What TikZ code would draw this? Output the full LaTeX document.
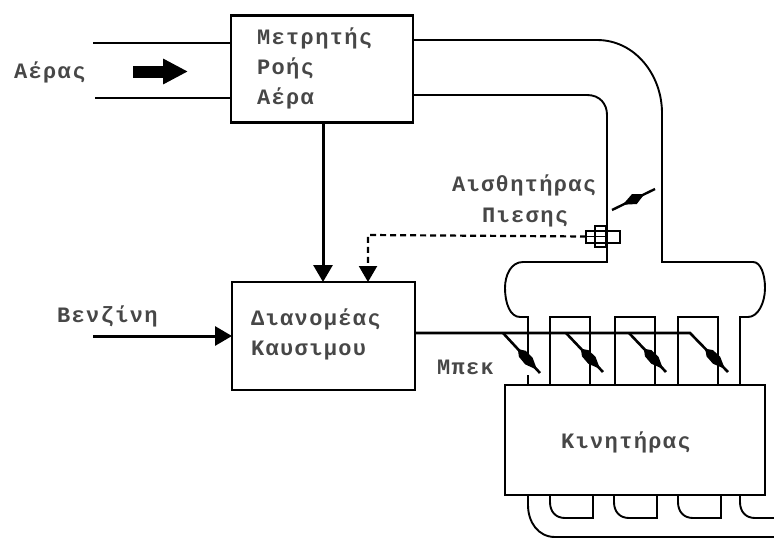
\documentclass[tikz,border=0pt]{standalone}
\usepackage{fontspec}
\usetikzlibrary{arrows.meta,calc}
\newfontfamily\labelfont[LetterSpace=6]{Liberation Mono Bold}
\newcommand{\nozzleblob}[2]{\fill ($(#1)!0.4!(#2)$) -- ($(#1)!0.52!(#2)!4.5pt!90:(#2)$) -- ($(#1)!0.7!(#2)!5pt!90:(#2)$) -- ($(#1)!0.92!(#2)$) -- ($(#1)!0.7!(#2)!5pt!-90:(#2)$) -- ($(#1)!0.52!(#2)!4.5pt!-90:(#2)$) -- cycle;}
\tikzset{
  blockbox/.style={draw, line width=2.4pt, rectangle, outer sep=0pt, inner sep=0pt},
  caption/.style={font=\labelfont\fontsize{22}{24}\selectfont, anchor=west, inner sep=0pt, text=black!72},
  pipe/.style={line width=1.9pt},
  feed/.style={line width=3pt, -{Triangle[length=17pt,width=19pt]}},
  rail/.style={line width=2.6pt},
}
\begin{document}
\begin{tikzpicture}[x=1pt, y=-1pt]
  \useasboundingbox (0,0) rectangle (774,538);

  % blocks
  \node[blockbox, minimum width=182pt, minimum height=107pt] (meter) at (322,69) {};
  \node[blockbox, minimum width=183pt, minimum height=108pt] (distributor) at (323.5,336) {};
  \node[blockbox, minimum width=260pt, minimum height=110pt] (engine) at (635,440) {};

  % block texts
  \node[caption] (meter1) at (257,38) {Μετρητής};
  \node[caption] (meter2) at (257,68) {Ροής};
  \node[caption] (meter3) at (257,98) {Αέρα};
  \node[caption] (distributor1) at (251,319) {Διανομέας};
  \node[caption] (distributor2) at (251,351) {Καυσιμου};
  \node[caption] (enginetext) at (561,442) {Κινητήρας};

  % outer labels
  \node[caption] (airtext) at (14,72) {Αέρας};
  \node[caption] (fueltext) at (57,316) {Βενζίνη};
  \node[caption] (sensor1) at (452,185) {Αισθητήρας};
  \node[caption] (sensor2) at (482,218) {Πιεσης};
  \node[caption] (nozzletext) at (437,367) {Μπεκ};

  % air inlet
  \coordinate (inlettop) at (93,43);
  \coordinate (inletbot) at (95,98);
  \draw[pipe] (inlettop) -- (meter.west |- inlettop);
  \draw[pipe] (inletbot) -- (meter.west |- inletbot);
  \coordinate (airstart) at (133,71.5);
  \coordinate (airend) at (188,71.5);
  \draw[line width=12pt, -{Triangle[length=25pt,width=24pt]}] (airstart) -- (airend);

  % duct down to the manifold
  \draw[pipe] (meter.east |- 0,40) -- (597,40) .. controls (635,40) and (662,75) .. (662,113) -- (662,262)
    -- (753,262) .. controls (761,262) and (765,275) .. (765,288) .. controls (765,303) and (758,317) .. (748,317)
    -- (740,317) -- (740,385);
  \draw[pipe] (meter.east |- 0,95) -- (587,95) .. controls (600,95) and (607,104) .. (607,115) -- (607,262)
    -- (523,262) .. controls (511,262) and (505,275) .. (505,288) .. controls (505,303) and (510,317) .. (520,317)
    -- (528,317) -- (528,362);
  \draw[pipe] (528,375) -- (528,385);

  % intake runners
  \draw[pipe] (550,385) -- (550,317) -- (590,317) -- (590,385);
  \draw[pipe] (615,385) -- (615,317) -- (655,317) -- (655,385);
  \draw[pipe] (678,385) -- (678,317) -- (718,317) -- (718,385);

  % exhaust runners
  \draw[pipe] (550,495) -- (550,502) .. controls (550,512) and (556,518) .. (565,518) -- (593,518) -- (593,495);
  \draw[pipe] (614,495) -- (614,502) .. controls (614,512) and (620,518) .. (629,518) -- (657,518) -- (657,495);
  \draw[pipe] (678,495) -- (678,502) .. controls (678,512) and (684,518) .. (693,518) -- (721,518) -- (721,495);
  \draw[pipe] (740,495) -- (740,502) .. controls (740,512) and (746,518) .. (755,518) -- (774,518);
  \draw[pipe] (528,495) -- (528,505) .. controls (528,522) and (538,537) .. (555,537) -- (774,537);

  % block connections
  \draw[feed] (meter.south -| 323,0) -- (distributor.north -| 323,0);
  \coordinate (fuelin) at (93,336);
  \draw[feed] (fuelin) -- (distributor.west |- fuelin);

  % pressure sensor
  \node[draw, line width=2pt, minimum width=34pt, minimum height=12pt, inner sep=0pt, outer sep=0pt] (sensor) at (603,236.5) {};
  \node[draw, line width=2pt, minimum width=11pt, minimum height=21pt, inner sep=0pt, outer sep=0pt] (sensornut) at (600,236.5) {};
  \draw[pipe] (sensor.west) -- (sensornut.east);
  \draw[line width=2.2pt, dash pattern=on 6pt off 4pt, -{Triangle[length=16pt,width=18pt]}] (sensor.west) -- (368,235) -- (distributor.north -| 368,0);

  % sensor pointer
  \coordinate (pointerA) at (612,210);
  \coordinate (pointerB) at (655,189);
  \draw[line width=2.4pt] (pointerA) -- (pointerB);
  \fill ($(pointerA)!0.25!(pointerB)$) -- ($(pointerA)!0.52!(pointerB)!5.5pt!90:(pointerB)$) -- ($(pointerA)!0.75!(pointerB)$) -- ($(pointerA)!0.52!(pointerB)!5.5pt!-90:(pointerB)$) -- cycle;

  % fuel rail and nozzles
  \coordinate (rail1) at (503,333);
  \coordinate (rail2) at (566,333);
  \coordinate (rail3) at (629,333);
  \coordinate (rail4) at (690,333);
  \coordinate (tip1) at (540,373);
  \coordinate (tip2) at (603,372);
  \coordinate (tip3) at (666,372);
  \coordinate (tip4) at (728,372);
  \draw[rail] (distributor.east |- rail4) -- (rail4) -- (tip4);
  \draw[rail] (rail1) -- (tip1);
  \draw[rail] (rail2) -- (tip2);
  \draw[rail] (rail3) -- (tip3);
  \nozzleblob{rail1}{tip1}
  \nozzleblob{rail2}{tip2}
  \nozzleblob{rail3}{tip3}
  \nozzleblob{rail4}{tip4}
\end{tikzpicture}
\end{document}
